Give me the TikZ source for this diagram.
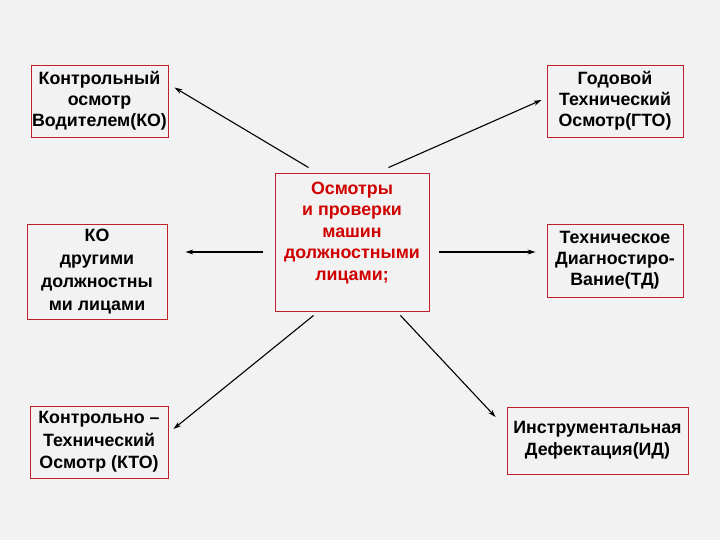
\documentclass[tikz,border=0pt]{standalone}
\usepackage{fontspec}
\setmainfont{Liberation Sans}
\usetikzlibrary{arrows.meta,calc}
\definecolor{bg}{HTML}{F2F2F2}
\definecolor{boxred}{HTML}{C0202A}
\definecolor{txtred}{HTML}{D00000}
\tikzset{
  box/.style={draw=boxred, line width=0.9pt, fill=bg, inner sep=0pt, align=center,
    font=\bfseries\fontsize{17.8}{21}\selectfont, text=black},
  ctext/.style={inner sep=0pt, align=center, font=\bfseries\fontsize{17.8}{21.5}\selectfont, text=txtred},
  arr/.style={draw=black, line width=1.1pt, -{Stealth[length=8pt,width=5pt]}}
}
\begin{document}
\begin{tikzpicture}[x=1pt,y=-1pt]
\fill[bg] (0,0) rectangle (720,540);
\useasboundingbox (0,0) rectangle (720,540);
\node[box, minimum width=137, minimum height=72] (ko1) at (99.5,101) {Контрольный\\осмотр\\Водителем(КО)};
\node[box, minimum width=136, minimum height=72] (gto) at (615,101) {Годовой\\Технический\\Осмотр(ГТО)};
\node[box, minimum width=154, minimum height=138] (c) at (352,242) {};
\node[ctext, anchor=north] (ct) at ($(c.north)+(0,9)$) {Осмотры\\и проверки\\машин\\должностными\\лицами;};
\node[box, minimum width=140, minimum height=95, font=\bfseries\fontsize{17.8}{23}\selectfont] (ko2) at (97,271.5) {КО\\другими\\должностны\\ми лицами};
\node[box, minimum width=136, minimum height=73] (td) at (615,260.5) {Техническое\\Диагностиро-\\Вание(ТД)};
\node[box, minimum width=138, minimum height=72, font=\bfseries\fontsize{17.8}{22.5}\selectfont] (kto) at (99,442) {Контрольно –\\Технический\\Осмотр (КТО)};
\node[box, minimum width=181, minimum height=67, font=\bfseries\fontsize{17.8}{22}\selectfont] (id) at (597.5,440.5) {Инструментальная\\Дефектация(ИД)};
\draw[arr] ($(c.north west)+(34,-5)$) -- ($(ko1.north east)+(6,23)$);
\draw[arr] ($(c.north east)+(-41,-5)$) -- ($(gto.west)+(-5,-1)$);
\draw[arr] ($(c.east)+(10,10)$) -- ($(td.west)+(-11,-8.5)$);
\draw[arr] ($(c.west)+(-12,10)$) -- ($(ko2.east)+(18,-19.5)$);
\draw[arr] ($(c.south west)+(39,4)$) -- ($(kto.east)+(5,-13)$);
\draw[arr] ($(c.south east)+(-29,4)$) -- ($(id.west)+(-11,-23.5)$);
\end{tikzpicture}
\end{document}
